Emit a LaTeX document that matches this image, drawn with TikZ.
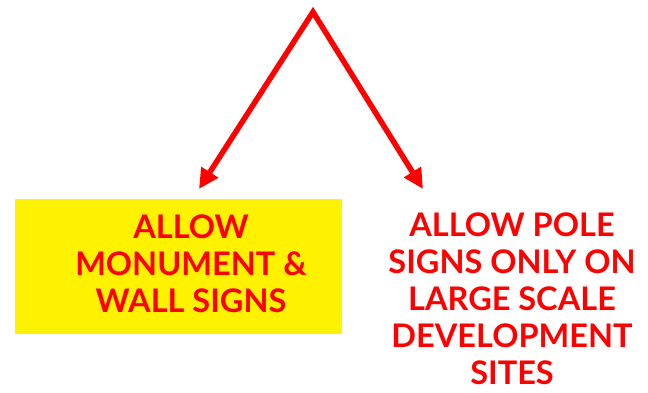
\documentclass[tikz,border=0pt]{standalone}
\usepackage{fontspec}
\setmainfont{Lato}
\usetikzlibrary{arrows.meta, positioning}

\begin{document}
\begin{tikzpicture}[x=1pt, y=-1pt,
  arrowline/.style={draw=red, line width=5.5pt, line join=miter, {Triangle[length=20pt, width=19pt]}-{Triangle[length=20pt, width=19pt]}},
  signtext/.style={text=red, font=\bfseries\fontsize{32.5}{37}\selectfont, align=center, inner sep=0pt, anchor=north}]
\useasboundingbox (0,0) rectangle (648,392);
% Yellow panel behind the left option
\fill[yellow] (15,199) rectangle (342,334);
% Options
\node[signtext] (wallsigns) at (191,215) {ALLOW\\MONUMENT \&\\WALL SIGNS};
\node[signtext] (polesigns) at (512,213) {ALLOW POLE\\SIGNS ONLY ON\\LARGE SCALE\\DEVELOPMENT\\SITES};
% Split arrows
\coordinate (apex) at (313,12);
\coordinate (lefttip) at (199,189);
\coordinate (righttip) at (423,189);
\draw[arrowline] (lefttip) -- (apex) -- (righttip);
\end{tikzpicture}
\end{document}
